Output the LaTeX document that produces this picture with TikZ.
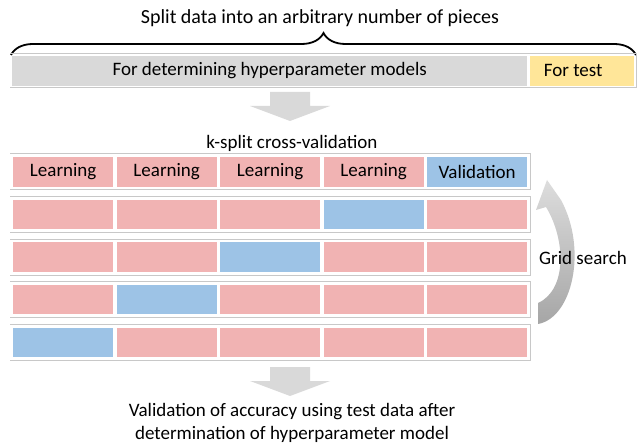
\documentclass[tikz,border=0pt]{standalone}
\usepackage{fontspec}
\setmainfont{Carlito}
\usetikzlibrary{decorations.pathreplacing, calc}
\definecolor{learnpink}{HTML}{F1B3B3}
\definecolor{validblue}{HTML}{9DC3E6}
\definecolor{hypgray}{HTML}{D9D9D9}
\definecolor{testyellow}{HTML}{FFE699}
\definecolor{rulegray}{HTML}{C8C8C8}

\begin{document}
\begin{tikzpicture}[x=1pt, y=-1pt, font=\fontsize{19}{23}\selectfont,
  cell/.style={minimum width=100pt, minimum height=29.5pt, inner sep=0pt, anchor=north west},
  rowline/.style={draw=rulegray, line width=1pt}]
\useasboundingbox (0,0) rectangle (640,446);

% data split
\node[font=\fontsize{20}{24}\selectfont] (title) at (320,18) {Split data into an arbitrary number of pieces};
\draw[line width=1.8pt, decorate, decoration={brace, amplitude=22pt}] (11,55) -- (636,55);
\node[cell, minimum width=515pt, fill=hypgray] (hyper) at (12,56) {For determining hyperparameter models};
\node[cell, minimum width=104pt, fill=testyellow] (test) at (530,56) {For test\hspace*{18pt}};
\draw[rowline] (10,54) -- (636,54) (10,88) -- (636,88) (636,54) -- (636,88);

\fill[hypgray] (270,92) -- (310,92) -- (310,106) -- (330,106) -- (290,121) -- (250,106) -- (270,106) -- cycle;

% cross-validation rows
\node (kfold) at (292,143) {k-split cross-validation};
\foreach \r/\v in {1/5,2/4,3/3,4/2,5/1} {
  \foreach \c in {1,...,5} {
    \pgfmathsetmacro{\cx}{13+(\c-1)*103.5}
    \pgfmathsetmacro{\cy}{157+(\r-1)*42.6}
    \ifnum\c=\v \def\cellcol{validblue}\else \def\cellcol{learnpink}\fi
    \ifnum\r=1
      \ifnum\c=\v \def\celltxt{Validation}\else \def\celltxt{Learning}\fi
    \else \def\celltxt{}\fi
    \node[cell, fill=\cellcol] (cell\r\c) at (\cx,\cy) {\celltxt};
  }
  \draw[rowline] ($(cell\r1.north west)+(-3,-3)$) -- ($(cell\r5.north east)+(3,-3)$)
    -- ($(cell\r5.south east)+(3,3)$) -- ($(cell\r1.south west)+(-3,3)$);
}

% grid search
\shade[top color=hypgray!90, bottom color=black!35]
  (538,324) .. controls (572,318) and (588,250) .. (561,200) -- (547,180) -- (536,210)
  -- (546,207) .. controls (566,240) and (567,290) .. (538,303) -- cycle;
\node (grid) at (583,258) {Grid search};

\fill[hypgray] (270,367) -- (310,367) -- (310,381) -- (330,381) -- (290,396) -- (250,381) -- (270,381) -- cycle;
\node[align=center] (result) at (292,423) {Validation of accuracy using test data after\\determination of hyperparameter model};
\end{tikzpicture}
\end{document}
